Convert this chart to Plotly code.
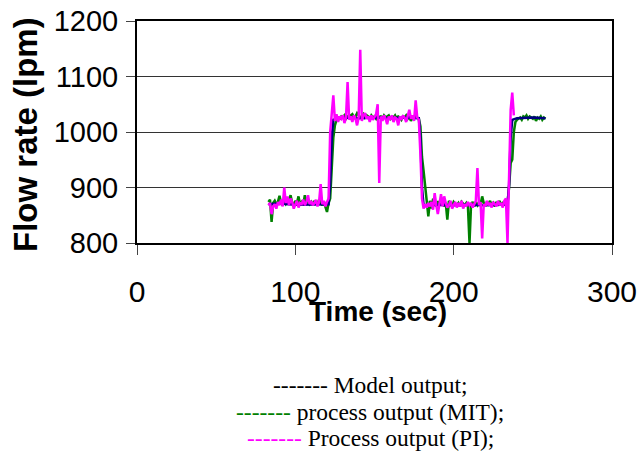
import plotly.graph_objects as go

# ---- data ----
pi_t = list(range(83, 239))
pi_v = [868, 872, 852, 866, 870, 862, 874, 868, 878, 866,
        900, 872, 884, 868, 880, 874, 862, 868, 876, 864,
        872, 870, 878, 868, 874, 886, 870, 876, 868, 872,
        878, 866, 874, 906, 870, 876, 866, 874, 880, 1000,
        1040, 1066, 1020, 1032, 1018, 1028, 1024, 1030, 1016, 1026,
        1090, 1022, 1028, 1018, 1030, 1024, 1012, 1026, 1148, 1020,
        1030, 1034, 1024, 1028, 1018, 1030, 1022, 1026, 1032, 1050,
        908, 1028, 1020, 1030, 1024, 1014, 1028, 1022, 1030, 1018,
        1026, 1024, 1012, 1028, 1022, 1030, 1026, 1018, 1028, 1040,
        1024, 1030, 1020, 1057, 1026, 1022, 960, 880, 862, 870,
        864, 872, 866, 874, 860, 890, 868, 852, 870, 888,
        866, 884, 872, 864, 868, 876, 862, 870, 874, 864,
        872, 866, 876, 862, 870, 866, 874, 868, 872, 864,
        870, 876, 935, 868, 874, 808, 870, 866, 876, 868,
        872, 864, 874, 870, 866, 876, 868, 872, 864, 876,
        880, 800, 950, 1040, 1071, 1030]

mit_t = list(range(83, 259))
mit_v = [874, 878, 838, 872, 876, 870, 874, 885, 872, 868,
         876, 870, 874, 878, 886, 872, 868, 876, 872, 884,
         870, 874, 868, 886, 872, 876, 870, 874, 868, 876,
         872, 870, 878, 872, 868, 874, 866, 856, 872, 880,
         935, 990, 1012, 1022, 1026, 1024, 1028, 1026, 1030, 1024,
         1028, 1026, 1030, 1032, 1026, 1028, 1034, 1030, 1026, 1028,
         1032, 1026, 1030, 1028, 1024, 1030, 1026, 1028, 1024, 1030,
         1026, 1028, 1024, 1030, 1026, 1028, 1030, 1024, 1028, 1026,
         1030, 1024, 1028, 1026, 1022, 1028, 1026, 1030, 1024, 1028,
         1020, 1026, 1024, 1028, 1026, 1024, 1010, 955, 930, 900,
         870, 848, 876, 862, 880, 870, 866, 874, 874, 870,
         878, 866, 872, 842, 876, 870, 866, 874, 870, 868,
         872, 866, 874, 870, 868, 872, 866, 800, 870, 874,
         866, 872, 868, 874, 870, 884, 872, 866, 874, 870,
         876, 868, 872, 866, 874, 870, 876, 868, 872, 870,
         874, 872, 900, 944, 950, 1000, 1018, 1022, 1024, 1026,
         1022, 1028, 1026, 1030, 1024, 1028, 1026, 1024, 1028, 1020,
         1026, 1024, 1028, 1022, 1026, 1024]

model_t = [83, 90, 100, 110, 121, 122, 123, 124, 130, 140, 150, 160, 170,
           178, 179, 180, 181, 190, 200, 210, 220, 230, 234, 235, 236, 237,
           240, 250, 258]
model_v = [870, 871, 869, 870, 870, 905, 990, 1022, 1026, 1025, 1026, 1025,
           1026, 1025, 990, 900, 868, 869, 868, 869, 868, 869, 869, 905, 990,
           1022, 1025, 1026, 1025]

x_ticks = [0, 100, 200, 300]
y_ticks = [800, 900, 1000, 1100, 1200]

legend_lines = [
    ("black", "Model output;"),
    ("green", "process output (MIT);"),
    ("magenta", "Process output (PI);"),
]

SANS = "Liberation Sans, Arial"

fig = go.Figure()
fig.add_trace(go.Scatter(x=mit_t, y=mit_v, mode="lines",
                         line=dict(color="#008000", width=2.5), showlegend=False))
fig.add_trace(go.Scatter(x=model_t, y=model_v, mode="lines",
                         line=dict(color="#000080", width=2.5), showlegend=False))
fig.add_trace(go.Scatter(x=pi_t, y=pi_v, mode="lines",
                         line=dict(color="#FF00FF", width=2.5), showlegend=False))

fig.update_layout(
    width=640, height=454,
    margin=dict(l=137, r=28, t=21, b=211),
    paper_bgcolor="white", plot_bgcolor="white",
    showlegend=False,
    xaxis=dict(range=[0, 300], tickvals=x_ticks, ticktext=[str(v) for v in x_ticks],
               showgrid=False, zeroline=False, automargin=False,
               showline=True, linecolor="black", linewidth=2, mirror=True,
               ticks="outside", ticklen=10, tickwidth=1, tickcolor="#444",
               ticklabelstandoff=11, ticklabeloverflow="allow",
               tickfont=dict(family=SANS, size=30, color="black")),
    yaxis=dict(range=[800, 1200], tickvals=y_ticks, ticktext=[str(v) for v in y_ticks],
               showgrid=True, gridcolor="#333", gridwidth=1, zeroline=False,
               automargin=False,
               showline=True, linecolor="black", linewidth=2, mirror=True,
               ticks="outside", ticklen=9, tickwidth=1, tickcolor="#444",
               ticklabelstandoff=2, ticklabeloverflow="allow",
               tickfont=dict(family=SANS, size=29, color="black")),
)

annotations = [
    dict(text="<b>Flow rate (lpm)</b>", xref="paper", yref="paper",
         x=(25 - 137) / 475, y=(243 - 135) / 222, xanchor="center", yanchor="middle",
         textangle=-90, showarrow=False,
         font=dict(family=SANS, size=33, color="black")),
    dict(text="<b>Time (sec)</b>", xref="paper", yref="paper",
         x=(378 - 137) / 475, y=(243 - 311) / 222, xanchor="center", yanchor="middle",
         showarrow=False,
         font=dict(family=SANS, size=28, color="black")),
]
legend_y = [385, 412, 438]
for (col, label), py in zip(legend_lines, legend_y):
    annotations.append(dict(
        text=f"<span style='color:{col}'>-------</span> {label}",
        xref="paper", yref="paper", x=(370 - 137) / 475, y=(243 - py) / 222,
        xanchor="center", yanchor="middle", showarrow=False,
        font=dict(family="Liberation Serif, Times New Roman", size=23.5, color="black")))
fig.update_layout(annotations=annotations)

# remove the browser's default 8px body margin so the figure sits at the page origin
fig.write_html("out.html", config={"displayModeBar": False},
               post_script="document.body.style.margin='0';")
